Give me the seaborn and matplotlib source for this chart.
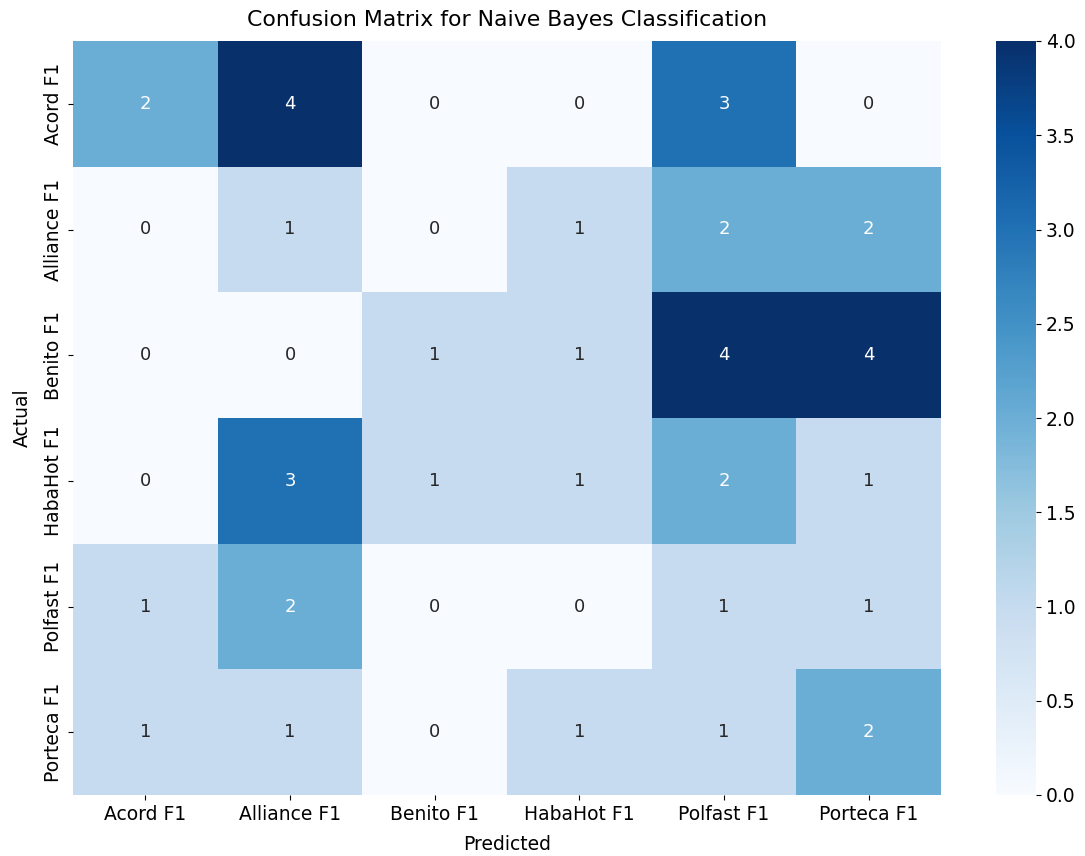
import pandas as pd
import matplotlib.pyplot as plt
import seaborn as sns

# Confusion matrix values
labels = ["Acord F1", "Alliance F1", "Benito F1", "HabaHot F1", "Polfast F1", "Porteca F1"]
row_acord = [2, 4, 0, 0, 3, 0]
row_alliance = [0, 1, 0, 1, 2, 2]
row_benito = [0, 0, 1, 1, 4, 4]
row_habahot = [0, 3, 1, 1, 2, 1]
row_polfast = [1, 2, 0, 0, 1, 1]
row_porteca = [1, 1, 0, 1, 1, 2]

cm = pd.DataFrame([row_acord, row_alliance, row_benito, row_habahot, row_polfast, row_porteca],
                  index=labels, columns=labels)

W, H = 1085, 856
fig = plt.figure(figsize=(W / 100, H / 100), dpi=100)
ax = fig.add_axes([73 / W, 1 - 795 / H, (941 - 73) / W, (795 - 41) / H])
cax = fig.add_axes([996 / W, 1 - 795 / H, (1036 - 996) / W, (795 - 41) / H])

sns.heatmap(cm, annot=True, fmt="d", cmap="Blues", annot_kws={"size": 13},
            ax=ax, cbar_ax=cax)
ax.set_xlabel("Predicted", fontsize=13.5, labelpad=8)
ax.set_ylabel("Actual", fontsize=13.5, labelpad=9)
ax.set_title("Confusion Matrix for Naive Bayes Classification", fontsize=15.8, pad=11)
ax.tick_params(labelsize=13.5)
cax.tick_params(labelsize=13.5)
plt.savefig("out.png", dpi=100)
